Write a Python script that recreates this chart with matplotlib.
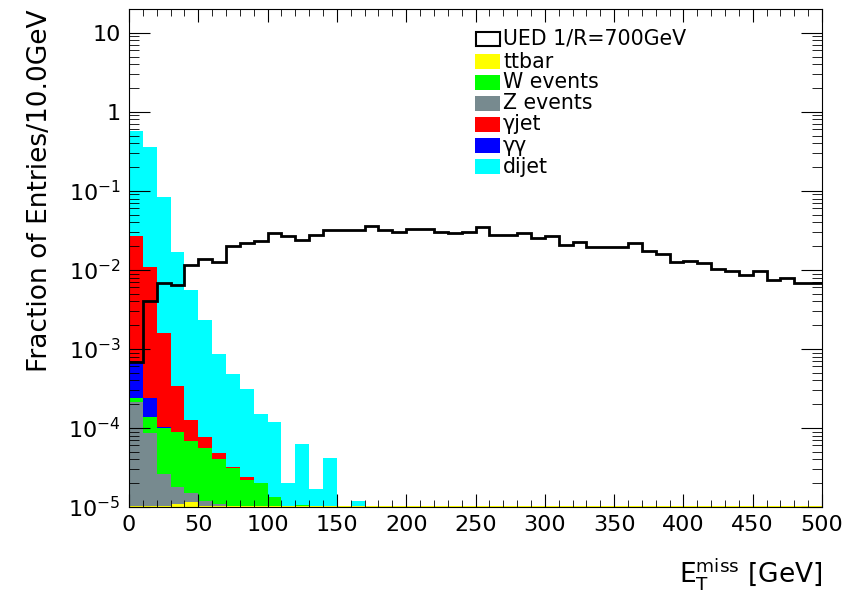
import numpy as np
import matplotlib
matplotlib.use('Agg')
from matplotlib import pyplot as plt
from matplotlib.patches import Rectangle
from matplotlib.ticker import FixedLocator, LogLocator, MultipleLocator, NullFormatter

plt.rcParams['font.family'] = ['DejaVu Sans']
plt.rcParams['mathtext.fontset'] = 'custom'
plt.rcParams['mathtext.rm'] = 'DejaVu Sans'

edges = np.arange(0, 501, 10)      # 10 GeV bins

# UED 1/R=700GeV, one value per bin (0..500 GeV)
ued = [6.8e-4, 4.0e-3, 6.8e-3, 6.4e-3, 0.0114, 0.0137, 0.0127, 0.020, 0.022, 0.0234,
       0.029, 0.027, 0.024, 0.0275, 0.032, 0.032, 0.032, 0.036, 0.032, 0.0306,
       0.033, 0.033, 0.030, 0.029, 0.030, 0.035, 0.028, 0.028, 0.029, 0.025,
       0.027, 0.0205, 0.0225, 0.0195, 0.0195, 0.0195, 0.0216, 0.0173, 0.0158, 0.0126,
       0.0131, 0.0123, 0.0103, 0.0097, 0.0087, 0.0096, 0.0075, 0.0080, 0.0068, 0.0068]

# backgrounds, first bins only (rest below the plot floor)
dijet = [0.58, 0.36, 0.083, 0.017, 5.6e-3, 2.3e-3, 8.7e-4, 4.8e-4, 3.1e-4, 1.5e-4,
         1.2e-4, 2.0e-5, 6.2e-5, 1.7e-5, 4.2e-5, 0, 1.2e-5]
gjet = [0.027, 0.011, 1.6e-3, 3.4e-4, 1.26e-4, 7.6e-5, 4.8e-5, 3.2e-5, 2.4e-5]
gg = [6.6e-4, 2.4e-4, 1.04e-4]
wev = [2.4e-4, 1.37e-4, 1.0e-4, 8.8e-5, 6.9e-5, 5.5e-5, 4.1e-5, 3.1e-5, 2.2e-5, 2.0e-5,
       1.35e-5, 1.02e-5, 1.05e-5]
zev = [2.15e-4, 8.6e-5, 2.6e-5, 1.8e-5, 1.5e-5, 1.2e-5, 1.1e-5]
ttbar = [1.03e-5, 1.03e-5, 1.03e-5, 1.1e-5, 1.17e-5, 1.03e-5, 1.03e-5, 1.03e-5, 1.03e-5, 1.03e-5,
         1.03e-5, 1.03e-5, 1.03e-5, 1.03e-5, 1.03e-5, 1.03e-5, 1.03e-5, 1.03e-5, 1.03e-5, 1.03e-5,
         1.03e-5, 1.03e-5, 1.03e-5, 1.03e-5, 1.03e-5, 1.03e-5, 1.03e-5, 1.03e-5, 1.03e-5, 1.03e-5,
         1.03e-5, 1.03e-5, 1.03e-5, 1.03e-5, 1.03e-5, 1.03e-5, 1.03e-5, 1.03e-5, 1.03e-5, 1.03e-5,
         1.03e-5, 1.03e-5, 1.03e-5, 1.03e-5, 1.03e-5, 1.03e-5, 1.03e-5, 1.03e-5, 1.03e-5, 1.03e-5]

labels = ['UED 1/R=700GeV', 'ttbar', 'W events', 'Z events', 'γjet', 'γγ', 'dijet']
c_tt, c_w, c_z, c_gj, c_gg, c_dj = '#ffff00', '#00ff00', '#778a8f', '#ff0000', '#0000ff', '#00ffff'

def pad(v):
    v = list(v) + [0] * (50 - len(v))
    return np.array(v, dtype=float)

W, H = 862, 599
fig = plt.figure(figsize=(W/100, H/100), dpi=100)
ax = fig.add_axes([129/W, 1 - 507/H, 693/W, 498/H])
ax.set_yscale('log')

base = 1e-6
# overlaid (drawn largest first)
for vals, col in [(dijet, c_dj), (gjet, c_gj), (gg, c_gg), (wev, c_w), (zev, c_z), (ttbar, c_tt)]:
    v = pad(vals)
    v[v <= 0] = base
    ax.stairs(v, edges, baseline=base, fill=True, color=col, lw=0)

ax.stairs(np.array(ued), edges, baseline=None, color='black', lw=2)

ax.set_xlim(0, 500)
ax.set_ylim(1e-5, 20)

ax.xaxis.set_major_locator(MultipleLocator(50))
ax.xaxis.set_minor_locator(MultipleLocator(10))
ax.yaxis.set_major_locator(FixedLocator([1e-5, 1e-4, 1e-3, 1e-2, 1e-1, 1, 10]))
ax.set_yticklabels([r'$\mathregular{10^{-5}}$', r'$\mathregular{10^{-4}}$', r'$\mathregular{10^{-3}}$',
                    r'$\mathregular{10^{-2}}$', r'$\mathregular{10^{-1}}$', '1', '10'])
ax.yaxis.set_minor_locator(LogLocator(base=10, subs=np.arange(2, 10), numticks=20))
ax.yaxis.set_minor_formatter(NullFormatter())

ax.tick_params(axis='both', which='both', direction='in', top=True, right=True, labelsize=16)
ax.tick_params(axis='x', which='major', length=9.5, pad=6)
ax.tick_params(axis='x', which='minor', length=5)
ax.tick_params(axis='y', which='major', length=15, pad=6)
ax.tick_params(axis='y', which='minor', length=7.5)

ax.set_xlabel(r'$\mathregular{E_T^{miss}}$ [GeV]', loc='right', fontsize=19, labelpad=15)
ax.set_ylabel('Fraction of Entries/10.0GeV', loc='top', fontsize=19, labelpad=11)

# legend, ROOT style (boxes + text, no frame)
rows_y = [39, 61.5, 82.5, 103, 124, 145.5, 167]
cols = [None, c_tt, c_w, c_z, c_gj, c_gg, c_dj]
for lab, col, py in zip(labels, cols, rows_y):
    if col is None:
        r = Rectangle((476/W, 1 - (py + 7)/H), 24/W, 14/H, transform=fig.transFigure,
                      facecolor='white', edgecolor='black', lw=1.5)
    else:
        r = Rectangle((475/W, 1 - (py + 7.5)/H), 25/W, 15/H, transform=fig.transFigure,
                      facecolor=col, edgecolor='none')
    fig.add_artist(r)
    fig.text(503/W, 1 - py/H, lab, fontsize=14.8, va='center', ha='left')

plt.savefig('out.png', dpi=100)
